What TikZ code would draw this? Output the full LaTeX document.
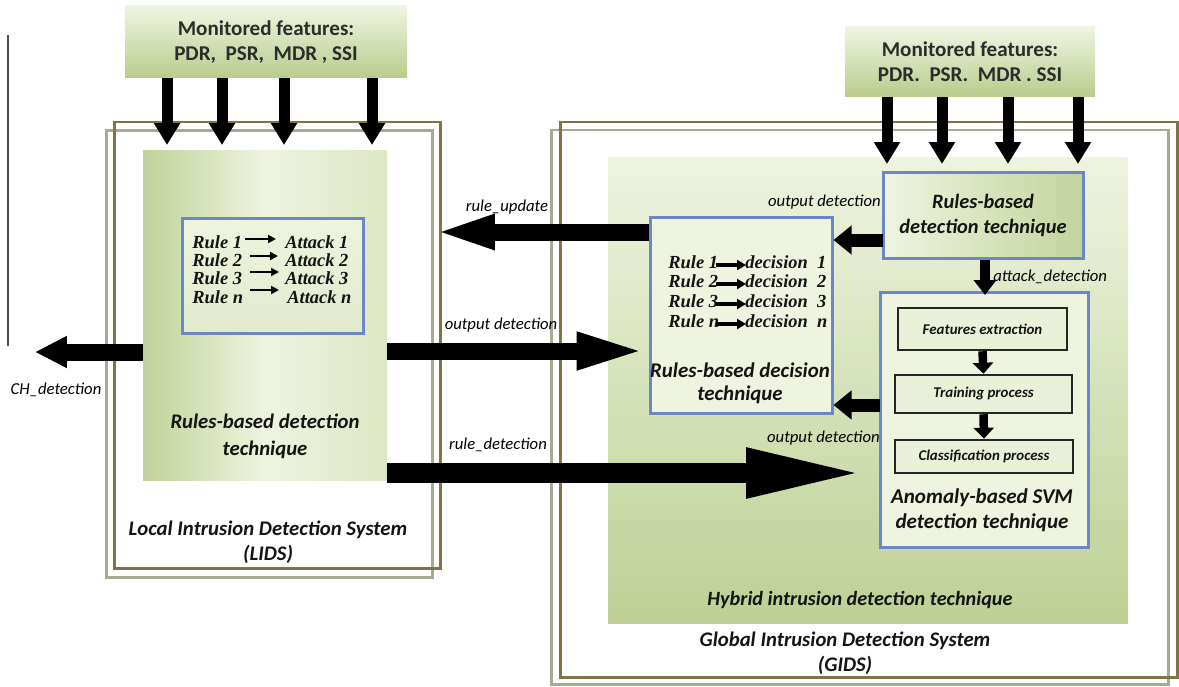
\documentclass[tikz,border=0pt]{standalone}
\usepackage{fontspec}
\setmainfont{Carlito}
\newfontfamily\serifbi{Liberation Serif}
\usetikzlibrary{arrows.meta,fit}
\definecolor{frameolive}{HTML}{7F7347}
\definecolor{framegray}{HTML}{A3AB93}
\definecolor{boxblue}{HTML}{6D87C6}
\definecolor{gdark}{HTML}{B8CC8C}
\definecolor{glight}{HTML}{EEF4DF}
\definecolor{gmid}{HTML}{DCE7C3}
\definecolor{txt}{HTML}{141414}
\begin{document}
\begin{tikzpicture}[x=0.02cm,y=-0.02cm,
  frameO/.style={draw=frameolive,line width=0.06cm},
  frameG/.style={draw=framegray,line width=0.06cm},
  bluebox/.style={draw=boxblue,line width=0.06cm,inner sep=0pt},
  blackbox/.style={draw=black!85,line width=0.05cm,inner sep=0pt,fill=glight!80!gmid},
  lbl/.style={font=\fontsize{9.5}{11}\selectfont\itshape,text=black,inner sep=0pt},
  ttl/.style={font=\fontsize{11.8}{14.2}\selectfont\bfseries\itshape,text=txt,align=center,inner sep=0pt},
  mono/.style={font=\fontsize{12}{14.2}\selectfont\bfseries,text=txt!90,align=center,inner sep=0pt},
  rulet/.style={font=\serifbi\fontsize{10.5}{12}\selectfont\bfseries\itshape,inner sep=0pt,text=txt},
  subt/.style={font=\fontsize{8.5}{10}\selectfont\bfseries\itshape,text=txt,inner sep=0pt},
  featarrow/.style={draw=black,line width=0.22cm,-{Triangle[length=0.44cm,width=0.5cm]}},
  bigR/.style={draw=black,line width=0.34cm,-{Triangle[length=1.44cm,width=0.66cm]}},
  bigL/.style={draw=black,line width=0.34cm,-{Triangle[length=1.24cm,width=0.62cm]}},
  hugeR/.style={draw=black,line width=0.4cm,-{Triangle[length=2.4cm,width=0.9cm]}},
  charrow/.style={draw=black,line width=0.34cm,-{Triangle[length=0.64cm,width=0.6cm]}},
  medarrow/.style={draw=black,line width=0.26cm,-{Triangle[length=0.36cm,width=0.56cm]}},
  atkarrow/.style={draw=black,line width=0.2cm,-{Triangle[length=0.3cm,width=0.44cm]}},
  smallarrow/.style={draw=black,line width=0.17cm,-{Triangle[length=0.22cm,width=0.4cm]}},
  rulearrow/.style={draw=black,line width=0.045cm,-{Triangle[length=0.16cm,width=0.16cm]}},
  decarrow/.style={draw=black,line width=0.07cm,-{Triangle[length=0.18cm,width=0.2cm]}},
]
\useasboundingbox (0,0) rectangle (1179,686);
% thin line at left
\coordinate (lt) at (8,35);
\coordinate (lb) at (8,346);
\draw[black!70,line width=0.025cm] (lt) -- (lb);

% frames
\node[frameG,fit={(106,130)(432,577)},inner sep=0pt] (lidsG) {};
\node[frameO,fit={(114,122)(440,568)},inner sep=0pt] (lidsO) {};
\node[frameG,fit={(551,130)(1168,684)},inner sep=0pt] (gidsG) {};
\node[frameO,fit={(560,122)(1177,677)},inner sep=0pt] (gidsO) {};

% monitored boxes
\node[fit={(125,6)(407,78)},inner sep=0pt,top color=glight!90!white,bottom color=gdark] (mfl) {};
\node[mono] (mflt) at (mfl.center) {Monitored features:\\PDR,\ \ PSR,\ \ MDR , SSI};
\node[fit={(845,27)(1095,97)},inner sep=0pt,top color=glight!90!white,bottom color=gdark] (mfr) {};
\node[mono] (mfrt) at (mfr.center) {Monitored features:\\PDR.\ \ PSR.\ \ MDR . SSI};

% LIDS inner
\node[fit={(143,150)(387,480)},inner sep=0pt,left color=gdark!85!glight,right color=gmid,middle color=glight] (lidsin) {};
\node[bluebox,fit={(182,218)(363,333)},top color=glight,bottom color=gmid!70!glight] (lrules) {};
\node[rulet,anchor=west] (r1) at (192,242) {Rule 1};
\node[rulet,anchor=west] (r2) at (192,260) {Rule 2};
\node[rulet,anchor=west] (r3) at (192,278) {Rule 3};
\node[rulet,anchor=west] (r4) at (192,297) {Rule \textit{n}};
\node[rulet,anchor=west] (k1) at (285,242) {Attack 1};
\node[rulet,anchor=west] (k2) at (285,260) {Attack 2};
\node[rulet,anchor=west] (k3) at (285,278) {Attack 3};
\node[rulet,anchor=west] (k4) at (287,297) {Attack \textit{n}};
\coordinate (la1) at (245,239); \coordinate (lb1) at (276,239);
\coordinate (la2) at (250,256); \coordinate (lb2) at (278,256);
\coordinate (la3) at (250,272); \coordinate (lb3) at (279,272);
\coordinate (la4) at (250,290); \coordinate (lb4) at (279,290);
\draw[rulearrow] (la1) -- (lb1);
\draw[rulearrow] (la2) -- (lb2);
\draw[rulearrow] (la3) -- (lb3);
\draw[rulearrow] (la4) -- (lb4);
\node[ttl] (lidst) at (265,436) {Rules-based detection\\[1pt]technique};
\node[ttl] (lidstitle) at (268,542) {Local Intrusion Detection System\\(LIDS)};

% hybrid box
\node[fit={(608,157)(1128,623)},inner sep=0pt,top color=glight,bottom color=gdark!90!glight] (hyb) {};
\node[ttl,font=\fontsize{11.5}{14}\selectfont\bfseries\itshape] (hybt) at (860,600) {Hybrid intrusion detection technique};
\node[ttl] (gidst) at (845,653) {Global Intrusion Detection System\\(GIDS)};

% top right rules box
\node[bluebox,fit={(883,172)(1083,258)},left color=glight,right color=gdark!80!glight] (trr) {};
\node[ttl,font=\fontsize{11.6}{14.2}\selectfont\bfseries\itshape] (trrt) at (trr.center) {Rules-based\\detection technique};

% decision box
\node[bluebox,fit={(650,217)(832,413)},fill=glight] (dec) {};
\node[rulet,anchor=west] (d1) at (668,262) {Rule 1};
\node[rulet,anchor=west] (d2) at (668,281) {Rule 2};
\node[rulet,anchor=west] (d3) at (668,301) {Rule 3};
\node[rulet,anchor=west] (d4) at (668,321) {Rule \textit{n}};
\node[rulet,anchor=west] (e1) at (745,262) {decision\ \ 1};
\node[rulet,anchor=west] (e2) at (745,281) {decision\ \ 2};
\node[rulet,anchor=west] (e3) at (745,301) {decision\ \ 3};
\node[rulet,anchor=west] (e4) at (745,321) {decision\ \ \textit{n}};
\coordinate (da1) at (716,265); \coordinate (db1) at (746,265);
\coordinate (da2) at (716,284); \coordinate (db2) at (746,284);
\coordinate (da3) at (716,304); \coordinate (db3) at (746,304);
\coordinate (da4) at (716,324); \coordinate (db4) at (746,324);
\draw[decarrow] (da1) -- (db1);
\draw[decarrow] (da2) -- (db2);
\draw[decarrow] (da3) -- (db3);
\draw[decarrow] (da4) -- (db4);
\node[ttl,font=\fontsize{11.9}{13.2}\selectfont\bfseries\itshape] (dect) at (740,383) {Rules-based decision\\technique};

% SVM box
\node[bluebox,fit={(880,292)(1088,547)},fill=glight] (svm) {};
\node[blackbox,fit={(898,308)(1067,350)}] (fe) {};
\node[subt] (fet) at (fe.center) {Features extraction};
\node[blackbox,fit={(895,375)(1072,413)}] (tp) {};
\node[subt] (tpt) at (tp.center) {Training process};
\node[blackbox,fit={(895,440)(1073,473)}] (cp) {};
\node[subt] (cpt) at (cp.center) {Classification process};
\node[ttl,font=\fontsize{12}{14.2}\selectfont\bfseries\itshape] (svmt) at (982,510) {Anomaly-based SVM\\detection technique};
\draw[smallarrow] (fe.south) -- (tp.north);
\draw[smallarrow] (tp.south) -- (cp.north);

% monitored arrows
\coordinate (a1) at (167,145); \coordinate (a2) at (222,145);
\coordinate (a3) at (284,145); \coordinate (a4) at (372,145);
\draw[featarrow] (mfl.south -| a1) -- (a1);
\draw[featarrow] (mfl.south -| a2) -- (a2);
\draw[featarrow] (mfl.south -| a3) -- (a3);
\draw[featarrow] (mfl.south -| a4) -- (a4);
\coordinate (b1) at (887,164); \coordinate (b2) at (942,164);
\coordinate (b3) at (1008,164); \coordinate (b4) at (1078,164);
\draw[featarrow] (mfr.south -| b1) -- (b1);
\draw[featarrow] (mfr.south -| b2) -- (b2);
\draw[featarrow] (mfr.south -| b3) -- (b3);
\draw[featarrow] (mfr.south -| b4) -- (b4);

% big connectors
\coordinate (chtip) at (35,352);
\draw[charrow] (lidsin.west |- chtip) -- (chtip);
\node[lbl] (chl) at (56,390) {CH\_detection};

\coordinate (outs) at (387,351);
\draw[bigR] (outs) -- (dec.west |- outs);
\node[lbl] (outl) at (501,325) {output detection};

\coordinate (rutip) at (433,232);
\draw[bigL] (dec.west |- rutip) -- (rutip);
\node[lbl] (rul) at (507,207) {rule\_update};

\coordinate (rds) at (387,473);
\coordinate (rdtip) at (866,473);
\draw[hugeR] (rds) -- (rdtip);
\node[lbl] (rdl) at (498,445) {rule\_detection};

\coordinate (o2) at (883,240);
\draw[medarrow] (o2) -- (dec.east |- o2);
\node[lbl,anchor=east] (o2l) at (881,202) {output detection};

\coordinate (o3) at (880,405);
\draw[medarrow] (o3) -- (dec.east |- o3);
\node[lbl,anchor=east] (o3l) at (880,438) {output detection};

\coordinate (atk) at (985,295);
\draw[atkarrow] (trr.south -| atk) -- (atk);
\node[lbl,anchor=west] (atkl) at (993,277) {attack\_detection};
\end{tikzpicture}
\end{document}
